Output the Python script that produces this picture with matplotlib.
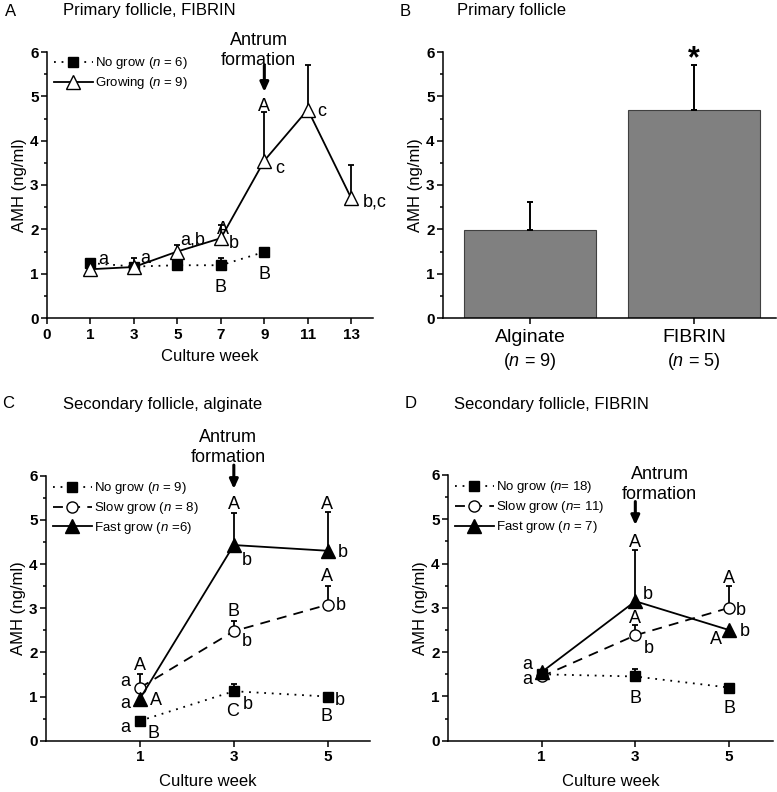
import matplotlib
matplotlib.use("Agg")
import matplotlib.pyplot as plt
import numpy as np

plt.rcParams['font.family'] = ['Liberation Sans', 'DejaVu Sans']
plt.rcParams['mathtext.fontset'] = 'custom'
plt.rcParams['mathtext.it'] = 'Liberation Sans:italic'
plt.rcParams['mathtext.rm'] = 'Liberation Sans'

# ---------------- Data ----------------
# Panel A: primary follicle, FIBRIN
a_weeks = ['0', '1', '3', '5', '7', '9', '11', '13']
a_nogrow_weeks = ['1', '3', '5', '7', '9']
a_nogrow = [1.24, 1.16, 1.19, 1.19, 1.49]
a_nogrow_err = [0.0, 0.19, 0.0, 0.16, 0.0]
a_grow_weeks = ['1', '3', '5', '7', '9', '11', '13']
a_grow = [1.10, 1.15, 1.50, 1.80, 3.55, 4.70, 2.70]
a_grow_err = [0.0, 0.0, 0.15, 0.30, 1.10, 1.00, 0.75]

# Panel B
b_cats = ['Alginate', 'FIBRIN']
b_n = ['9', '5']
b_vals = [1.98, 4.70]
b_err = [0.64, 1.00]

# Panel C: secondary follicle, alginate
cd_weeks = ['1', '3', '5']
c_nogrow = [0.45, 1.12, 1.00]
c_nogrow_err = [0.0, 0.16, 0.0]
c_slow = [1.20, 2.48, 3.08]
c_slow_err = [0.30, 0.22, 0.42]
c_fast = [0.95, 4.43, 4.30]
c_fast_err = [0.0, 0.72, 0.87]

# Panel D: secondary follicle, FIBRIN
d_nogrow = [1.50, 1.45, 1.20]
d_nogrow_err = [0.0, 0.17, 0.0]
d_slow = [1.45, 2.38, 3.00]
d_slow_err = [0.0, 0.24, 0.50]
d_fast = [1.55, 3.15, 2.50]
d_fast_err = [0.0, 1.15, 0.0]

W, H = 777, 792
fig = plt.figure(figsize=(W / 100, H / 100), dpi=100)


def ax_px(l, r, t, b):
    return fig.add_axes([l / W, (H - b) / H, (r - l) / W, (b - t) / H])


LW = 1.1
TICKFS = 11
LETTERFS = 13
LEGFS = 9.5
dotted = (0, (1, 3.2))
dashed = (0, (5.5, 4))


def style_axes(ax):
    for s in ['top', 'right']:
        ax.spines[s].set_visible(False)
    for s in ['left', 'bottom']:
        ax.spines[s].set_linewidth(LW)
    ax.set_ylim(0, 6)
    ax.set_yticks(np.arange(0, 7, 1))
    ax.set_yticks(np.arange(0.5, 6, 1), minor=True)
    ax.tick_params(axis='y', which='major', direction='out', length=4, width=LW, labelsize=TICKFS, pad=2)
    ax.tick_params(axis='y', which='minor', direction='out', length=2.5, width=LW)
    ax.tick_params(axis='x', which='major', direction='out', length=4, width=LW, labelsize=TICKFS, pad=3)
    for lab in ax.get_yticklabels():
        lab.set_fontweight('bold')
    ax.set_ylabel('AMH (ng/ml)', fontsize=12, labelpad=2)


def series(ax, x, y, err, ls, marker, mfc, ms, label):
    ax.errorbar(x, y, yerr=[np.zeros(len(err)), err], fmt='none', ecolor='black',
                elinewidth=LW + 0.2, capsize=2.5, capthick=LW + 0.2, zorder=2)
    ax.plot(x, y, linestyle=ls, color='black', lw=1.3, marker=marker, mfc=mfc,
            mec='black', mew=1.0, ms=ms, label=label, zorder=3)


def letters(ax, items):
    for x, y, s in items:
        ax.text(x, y, s, fontsize=LETTERFS, ha='center', va='center', zorder=5, clip_on=False)


def antrum(ax, xt, yt, xa, y0, y1):
    ax.text(xt, yt, 'Antrum\nformation', fontsize=13, ha='center', va='bottom',
            linespacing=1.25, clip_on=False)
    ax.annotate('', xy=(xa, y1), xytext=(xa, y0), annotation_clip=False,
                arrowprops=dict(arrowstyle='-|>,head_width=0.25,head_length=0.55',
                                color='black', lw=2.2, shrinkA=0, shrinkB=0))


def legend(ax, y_anchor):
    ax.legend(loc='upper left', bbox_to_anchor=(0.0, y_anchor), frameon=False, fontsize=LEGFS,
              handlelength=3.0, handletextpad=0.15, labelspacing=0.3, borderaxespad=0.1)


# ---------------- Panel A ----------------
axA = ax_px(47, 373, 52, 318)
style_axes(axA)
xa_idx = {w: i for i, w in enumerate(a_weeks)}
series(axA, [xa_idx[w] for w in a_nogrow_weeks], a_nogrow, a_nogrow_err, dotted, 's', 'black', 7.5,
       'No grow ($\\it{n}$ = 6)')
series(axA, [xa_idx[w] for w in a_grow_weeks], a_grow, a_grow_err, '-', '^', 'white', 10,
       'Growing ($\\it{n}$ = 9)')
axA.set_xlim(0, 7.5)
axA.set_xticks(range(len(a_weeks)))
axA.set_xticklabels(a_weeks, fontweight='bold')
axA.set_xlabel('Culture week', fontsize=12, labelpad=5)
legend(axA, 1.012)
letters(axA, [(1.29, 1.31, 'a'), (2.25, 1.35, 'a'), (3.36, 1.76, 'a,b'), (4.04, 2.0, 'A'),
              (4.3, 1.69, 'b'), (4.99, 4.77, 'A'), (5.36, 3.38, 'c'), (6.32, 4.65, 'c'),
              (7.54, 2.62, 'b,c'), (4.0, 0.68, 'B'), (5.01, 0.97, 'B')])
antrum(axA, 4.87, 5.62, 5, 5.7, 5.1)

# ---------------- Panel B ----------------
axB = ax_px(443, 776, 52, 318)
style_axes(axB)
xb = np.arange(1, len(b_cats) + 1)
axB.bar(xb, b_vals, width=0.8, color='#808080', edgecolor='#404040', linewidth=0.8, zorder=2)
axB.errorbar(xb, b_vals, yerr=[np.zeros(len(b_err)), b_err], fmt='none', ecolor='black',
             elinewidth=LW + 0.3, capsize=2.5, capthick=LW + 0.3, zorder=3)
axB.set_xlim(0.47, 2.5)
axB.set_xticks(xb)
axB.set_xticklabels(b_cats, fontsize=14)
axB.tick_params(axis='x', pad=4)
for xi, n in zip(xb, b_n):
    axB.text(xi, -0.125, '($\\it{n}$ = %s)' % n, transform=axB.get_xaxis_transform(),
             ha='center', va='top', fontsize=13)
axB.text(2, 5.5, '*', fontsize=22, fontweight='bold', ha='center', va='bottom')

# ---------------- Panel C ----------------
axC = ax_px(46, 370, 475.7, 740.7)
style_axes(axC)
xc = [1, 2, 3]
series(axC, xc, c_nogrow, c_nogrow_err, dotted, 's', 'black', 7.5, 'No grow ($\\it{n}$ = 9)')
series(axC, xc, c_slow, c_slow_err, dashed, 'o', 'white', 8, 'Slow grow ($\\it{n}$ = 8)')
series(axC, xc, c_fast, c_fast_err, '-', '^', 'black', 10, 'Fast grow ($\\it{n}$ =6)')
axC.set_xlim(0, 3.45)
axC.set_xticks(xc)
axC.set_xticklabels(cd_weeks, fontweight='bold')
axC.set_xlabel('Culture week', fontsize=12, labelpad=7)
legend(axC, 1.008)
letters(axC, [(1.0, 1.71, 'A'), (0.84, 1.34, 'a'), (0.84, 0.85, 'a'), (1.17, 0.9, 'A'),
              (0.84, 0.31, 'a'), (1.14, 0.17, 'B'), (2.0, 5.34, 'A'), (2.14, 4.09, 'b'),
              (2.0, 2.92, 'B'), (2.14, 2.24, 'b'), (1.99, 0.66, 'C'), (2.15, 0.81, 'b'),
              (2.99, 5.34, 'A'), (3.16, 4.27, 'b'), (2.99, 3.71, 'A'), (3.14, 3.05, 'b'),
              (3.13, 0.92, 'b'), (2.99, 0.54, 'B')])
antrum(axC, 1.94, 6.22, 2, 6.24, 5.7)

# ---------------- Panel D ----------------
axD = ax_px(448, 773, 475, 740.7)
style_axes(axD)
series(axD, xc, d_nogrow, d_nogrow_err, dotted, 's', 'black', 7.5, 'No grow ($\\it{n}$= 18)')
series(axD, xc, d_slow, d_slow_err, dashed, 'o', 'white', 8, 'Slow grow ($\\it{n}$= 11)')
series(axD, xc, d_fast, d_fast_err, '-', '^', 'black', 10, 'Fast grow ($\\it{n}$ = 7)')
axD.set_xlim(0, 3.47)
axD.set_xticks(xc)
axD.set_xticklabels(cd_weeks, fontweight='bold')
axD.set_xlabel('Culture week', fontsize=12, labelpad=7)
legend(axD, 1.008)
letters(axD, [(0.85, 1.73, 'a'), (0.85, 1.38, 'a'), (2.0, 4.47, 'A'), (2.13, 3.31, 'b'),
              (2.0, 2.76, 'A'), (2.14, 2.09, 'b'), (2.0, 0.96, 'B'), (3.0, 3.67, 'A'),
              (3.13, 2.95, 'b'), (3.17, 2.46, 'b'), (2.86, 2.29, 'A'), (3.01, 0.73, 'B')])
antrum(axD, 2.26, 5.36, 2, 5.4, 4.87)

# ---------------- Titles and panel letters ----------------
for x, y, s in [(5, 12, 'A'), (400, 12, 'B'), (2, 404, 'C'), (405, 404, 'D')]:
    fig.text(x / W, 1 - y / H, s, fontsize=12, ha='left', va='center')
for x, y, s in [(63, 11, 'Primary follicle, FIBRIN'), (457, 11, 'Primary follicle'),
                (63, 405, 'Secondary follicle, alginate'), (454, 405, 'Secondary follicle, FIBRIN')]:
    fig.text(x / W, 1 - y / H, s, fontsize=12, ha='left', va='center')

fig.savefig('out.png', dpi=100)
